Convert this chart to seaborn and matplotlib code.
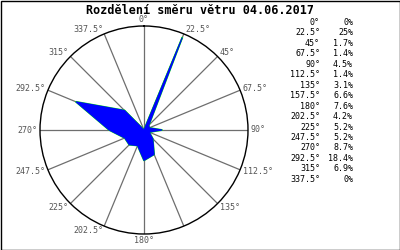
import numpy as np
import matplotlib
matplotlib.use("Agg")
import matplotlib.pyplot as plt
import seaborn as sns

directions = [0, 22.5, 45, 67.5, 90, 112.5, 135, 157.5, 180, 202.5, 225, 247.5, 270, 292.5, 315, 337.5]
dir_labels = ["0°", "22.5°", "45°", "67.5°", "90°", "112.5°", "135°", "157.5°", "180°",
              "202.5°", "225°", "247.5°", "270°", "292.5°", "315°", "337.5°"]
# axis labels shown around the circle (157.5° is not shown in the reference)
axis_labels = ["0°", "22.5°", "45°", "67.5°", "90°", "112.5°", "135°", "", "180°",
               "202.5°", "225°", "247.5°", "270°", "292.5°", "315°", "337.5°"]
percents = [0, 25, 1.7, 1.4, 4.5, 1.4, 3.1, 6.6, 7.6, 4.2, 5.2, 5.2, 8.7, 18.4, 6.9, 0]
pct_labels = ["0%", "25%", "1.7%", "1.4%", "4.5%", "1.4%", "3.1%", "6.6%", "7.6%",
              "4.2%", "5.2%", "5.2%", "8.7%", "18.4%", "6.9%", "0%"]
title = "Rozdělení směru větru 04.06.2017"

sns.set_theme(style="white")
plt.rcParams["font.family"] = ["DejaVu Sans Mono", "DejaVu Sans"]

W, H = 400, 250
fig = plt.figure(figsize=(W / 100, H / 100), dpi=100)
fig.patch.set_facecolor("white")

cx, cy, R = 144, 130, 104
RMAX = 26
ax = fig.add_axes([(cx - R) / W, (H - cy - R) / H, 2 * R / W, 2 * R / H], projection="polar")
ax.set_theta_zero_location("N")
ax.set_theta_direction(-1)
ax.set_facecolor("white")

theta = np.deg2rad(np.array(directions + [directions[0]]))
r = np.array(percents + [percents[0]])
ax.plot(theta, r, color="#00ee00", linewidth=1.3, zorder=3)
ax.fill(theta, r, facecolor="#0000ff", edgecolor="#0000ff", linewidth=0.8, zorder=4)
ax.set_ylim(0, RMAX)

ax.set_thetagrids(directions, [""] * len(directions))
ax.set_yticks([])
ax.xaxis.grid(True, color="#6e6e6e", linewidth=0.9)
ax.yaxis.grid(False)
ax.spines["polar"].set_color("black")
ax.spines["polar"].set_linewidth(1.0)

for a, lab in zip(directions, axis_labels):
    if not lab:
        continue
    s, c = np.sin(np.deg2rad(a)), np.cos(np.deg2rad(a))
    if a == 0:
        ha, va, off = "center", "bottom", (0, 2)
    elif a == 180:
        ha, va, off = "center", "top", (0, -2)
    else:
        ha = "left" if s > 0 else "right"
        va = "center"
        off = (3 * s, 5 * c)
    ax.annotate(lab, xy=(np.deg2rad(a), RMAX), xytext=off, textcoords="offset pixels",
                ha=ha, va=va, fontsize=6, color="#555555", annotation_clip=False)

fig.text(0.5, 1 - 10 / H, title, ha="center", va="center", fontsize=8.5,
         fontweight="bold", color="black")

y0, dy = 22.5, 10.45
for i, (dl, pl) in enumerate(zip(dir_labels, pct_labels)):
    y = 1 - (y0 + i * dy) / H
    fig.text(320 / W, y, dl, ha="right", va="center", fontsize=6, color="black")
    fig.text(353 / W, y, pl, ha="right", va="center", fontsize=6, color="black")

border = plt.Rectangle((0.5 / W, 0.5 / H), 1 - 1 / W, 1 - 1 / H, transform=fig.transFigure,
                       fill=False, edgecolor="black", linewidth=1)
fig.add_artist(border)

fig.savefig("out.png", dpi=100)
